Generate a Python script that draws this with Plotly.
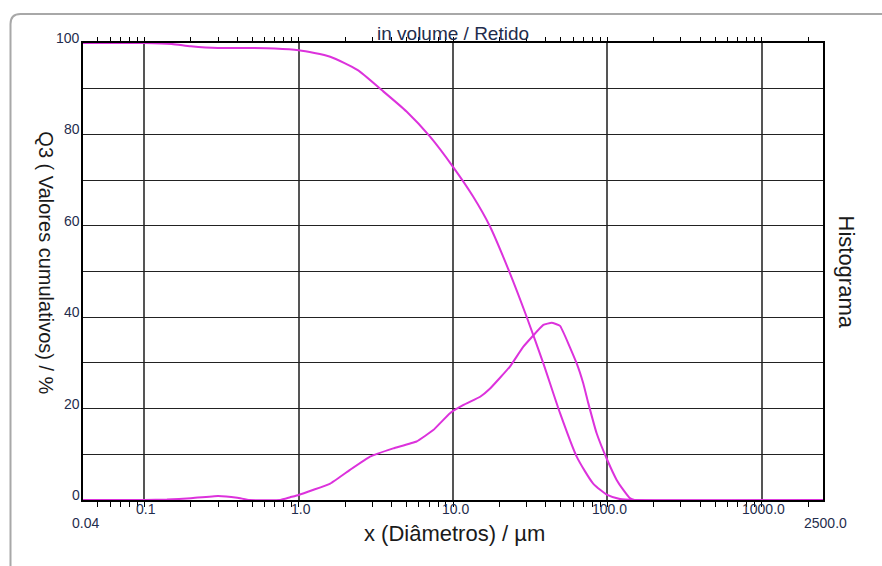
import math
import plotly.graph_objects as go

# ---------------- data ----------------
CUM_X = [0.04, 0.1, 0.15, 0.2, 0.3, 0.5, 0.7, 1.0, 1.6, 2.4, 3.45, 5.0, 7.1, 10.0,
         13.5, 17.4, 23.4, 30.0, 38.5, 49.4, 63.3, 81.0, 100.0, 121.0, 150.0, 2500.0]
CUM_Y = [100, 100, 99.8, 99.3, 98.9, 98.9, 98.8, 98.4, 97.0, 94.1, 89.7, 85.0, 79.5, 72.9,
         66.4, 59.8, 49.6, 40.1, 29.9, 19.0, 9.5, 3.6, 1.1, 0.2, 0, 0]

HIST_X = [0.04, 0.1, 0.14, 0.2, 0.3, 0.4, 0.48, 0.76, 0.88, 1.0, 1.6, 2.15, 2.9, 4.1,
          5.8, 7.45, 9.56, 11.7, 15.0, 17.4, 23.4, 28.5, 38.5, 43.6, 49.4, 63.3, 69.9,
          75.3, 85.3, 100.0, 115.0, 127.0, 140.0, 150.0, 2500.0]
HIST_Y = [0, 0, 0.1, 0.4, 0.9, 0.5, 0, 0, 0.6, 1.1, 3.6, 6.6, 9.5, 11.3,
          12.8, 15.3, 19.0, 20.8, 22.6, 24.4, 29.2, 33.5, 38.3, 38.8, 38.1, 29.9, 25.5,
          21.2, 14.6, 8.75, 4.4, 2.2, 0.4, 0, 0]

X_MIN, X_MAX = 0.04, 2500.0
X_MAJOR = [0.1, 1.0, 10.0, 100.0, 1000.0]
X_MAJOR_LABELS = ["0.1", "1.0", "10.0", "100.0", "1000.0"]
X_END_LABELS = ["0.04", "2500.0"]
X_MINOR = [0.05, 0.06, 0.07, 0.08, 0.09,
           0.2, 0.3, 0.4, 0.5, 0.6, 0.7, 0.8, 0.9,
           2, 3, 4, 5, 6, 7, 8, 9,
           20, 30, 40, 50, 60, 70, 80, 90,
           200, 300, 400, 500, 600, 700, 800, 900, 2000]
Y_GRID = [0, 10, 20, 30, 40, 50, 60, 70, 80, 90, 100]
Y_LABEL_VALS = [0, 20, 40, 60, 80, 100]
Y_LABELS = ["0", "20", "40", "60", "80", "100"]

TITLE = "in volume / Retido"
X_TITLE = "x (Diâmetros) / µm"
Y_TITLE = "Q3 ( Valores cumulativos) / %"
Y2_TITLE = "Histograma"

MAG = "#dc32dc"
FONT = "Liberation Sans, Arial, sans-serif"
TICK_COLOR = "#1f2d4d"
TEXT_COLOR = "#1a1a1a"

fig = go.Figure()
fig.add_trace(go.Scatter(x=CUM_X, y=CUM_Y, mode="lines",
                         line=dict(color=MAG, width=2, shape="spline", smoothing=0.6),
                         cliponaxis=False, showlegend=False, hoverinfo="skip"))
fig.add_trace(go.Scatter(x=HIST_X, y=HIST_Y, mode="lines",
                         line=dict(color=MAG, width=2, shape="spline", smoothing=0.3),
                         cliponaxis=False, showlegend=False, hoverinfo="skip"))
# invisible trace to activate the top axis
fig.add_trace(go.Scatter(x=[X_MIN, X_MAX], y=[0, 0], xaxis="x2", mode="lines",
                         opacity=0, showlegend=False, hoverinfo="skip"))

xr = [math.log10(X_MIN), math.log10(X_MAX)]

fig.update_layout(
    width=882, height=566,
    margin=dict(l=83, r=59, t=43, b=66),
    paper_bgcolor="white", plot_bgcolor="white",
    font=dict(family=FONT, color=TEXT_COLOR),
    xaxis=dict(type="log", range=xr, tickvals=X_MAJOR, showticklabels=False,
               ticks="outside", ticklen=5, tickcolor="black", tickwidth=1,
               showgrid=True, gridcolor="#555555", gridwidth=1.6,
               showline=True, linecolor="black", linewidth=1.5, mirror=True,
               zeroline=False,
               minor=dict(tickvals=X_MINOR, ticks="outside", ticklen=5,
                          tickcolor="black", tickwidth=1, showgrid=False)),
    xaxis2=dict(type="log", range=xr, overlaying="x", side="top", anchor="y",
                tickvals=X_MAJOR, showticklabels=False,
                ticks="outside", ticklen=5, tickcolor="black", tickwidth=1,
                showgrid=False, showline=False, zeroline=False,
                minor=dict(tickvals=X_MINOR, ticks="outside", ticklen=5,
                           tickcolor="black", tickwidth=1, showgrid=False)),
    yaxis=dict(range=[0, 100], tickvals=Y_GRID, showticklabels=False, ticks="",
               showgrid=True, gridcolor="#222222", gridwidth=1.2,
               showline=True, linecolor="black", linewidth=1.5, mirror=True,
               zeroline=False),
)

ann = []
for v, t in zip(Y_LABEL_VALS, Y_LABELS):
    ann.append(dict(x=0, xref="paper", y=v, yref="y", text=t, showarrow=False,
                    xanchor="right", yanchor="middle", xshift=-1, yshift=5,
                    font=dict(size=14, color=TICK_COLOR, family=FONT)))
for v, t in zip(X_MAJOR, X_MAJOR_LABELS):
    ann.append(dict(x=math.log10(v), xref="x", y=0, yref="paper", text=t, showarrow=False,
                    xanchor="center", yanchor="middle", xshift=2, yshift=-9,
                    font=dict(size=14, color=TICK_COLOR, family=FONT)))
for v, t in zip([X_MIN, X_MAX], X_END_LABELS):
    ann.append(dict(x=math.log10(v), xref="x", y=0, yref="paper", text=t, showarrow=False,
                    xanchor="center", yanchor="middle", xshift=2, yshift=-23,
                    font=dict(size=14, color=TICK_COLOR, family=FONT)))
ann.append(dict(x=0.5, xref="paper", y=1, yref="paper", text=TITLE, showarrow=False,
                xanchor="center", yanchor="middle", yshift=10,
                font=dict(size=19, color=TICK_COLOR, family=FONT)))
ann.append(dict(x=0.5, xref="paper", y=0, yref="paper", text=X_TITLE, showarrow=False,
                xanchor="center", yanchor="middle", yshift=-33, xshift=1,
                font=dict(size=22, color=TEXT_COLOR, family=FONT)))
ann.append(dict(x=0, xref="paper", y=0.52, yref="paper", text=Y_TITLE, showarrow=False,
                xanchor="center", yanchor="middle", xshift=-37, textangle=90,
                font=dict(size=20, color=TEXT_COLOR, family=FONT)))
ann.append(dict(x=1, xref="paper", y=0.5, yref="paper", text=Y2_TITLE, showarrow=False,
                xanchor="center", yanchor="middle", xshift=23, textangle=90,
                font=dict(size=22, color=TEXT_COLOR, family=FONT)))
fig.update_layout(annotations=ann)

# outer rounded panel border (top-left corner visible)
pw, ph = 740.0, 457.0
x0 = (10.5 - 83) / pw
yt = (500 - 14) / ph
xr_ = (900 - 83) / pw
yb = (500 - 600) / ph
rx, ry = 10 / pw, 10 / ph
path = (f"M {x0},{yb} L {x0},{yt - ry} Q {x0},{yt} {x0 + rx},{yt} L {xr_},{yt}")
fig.add_shape(type="path", path=path, xref="paper", yref="paper",
              line=dict(color="#a8a8a8", width=2), layer="below")

fig.write_html("out.html", config={"displayModeBar": False},
               post_script="document.body.style.margin='0';document.body.style.overflow='hidden';")
